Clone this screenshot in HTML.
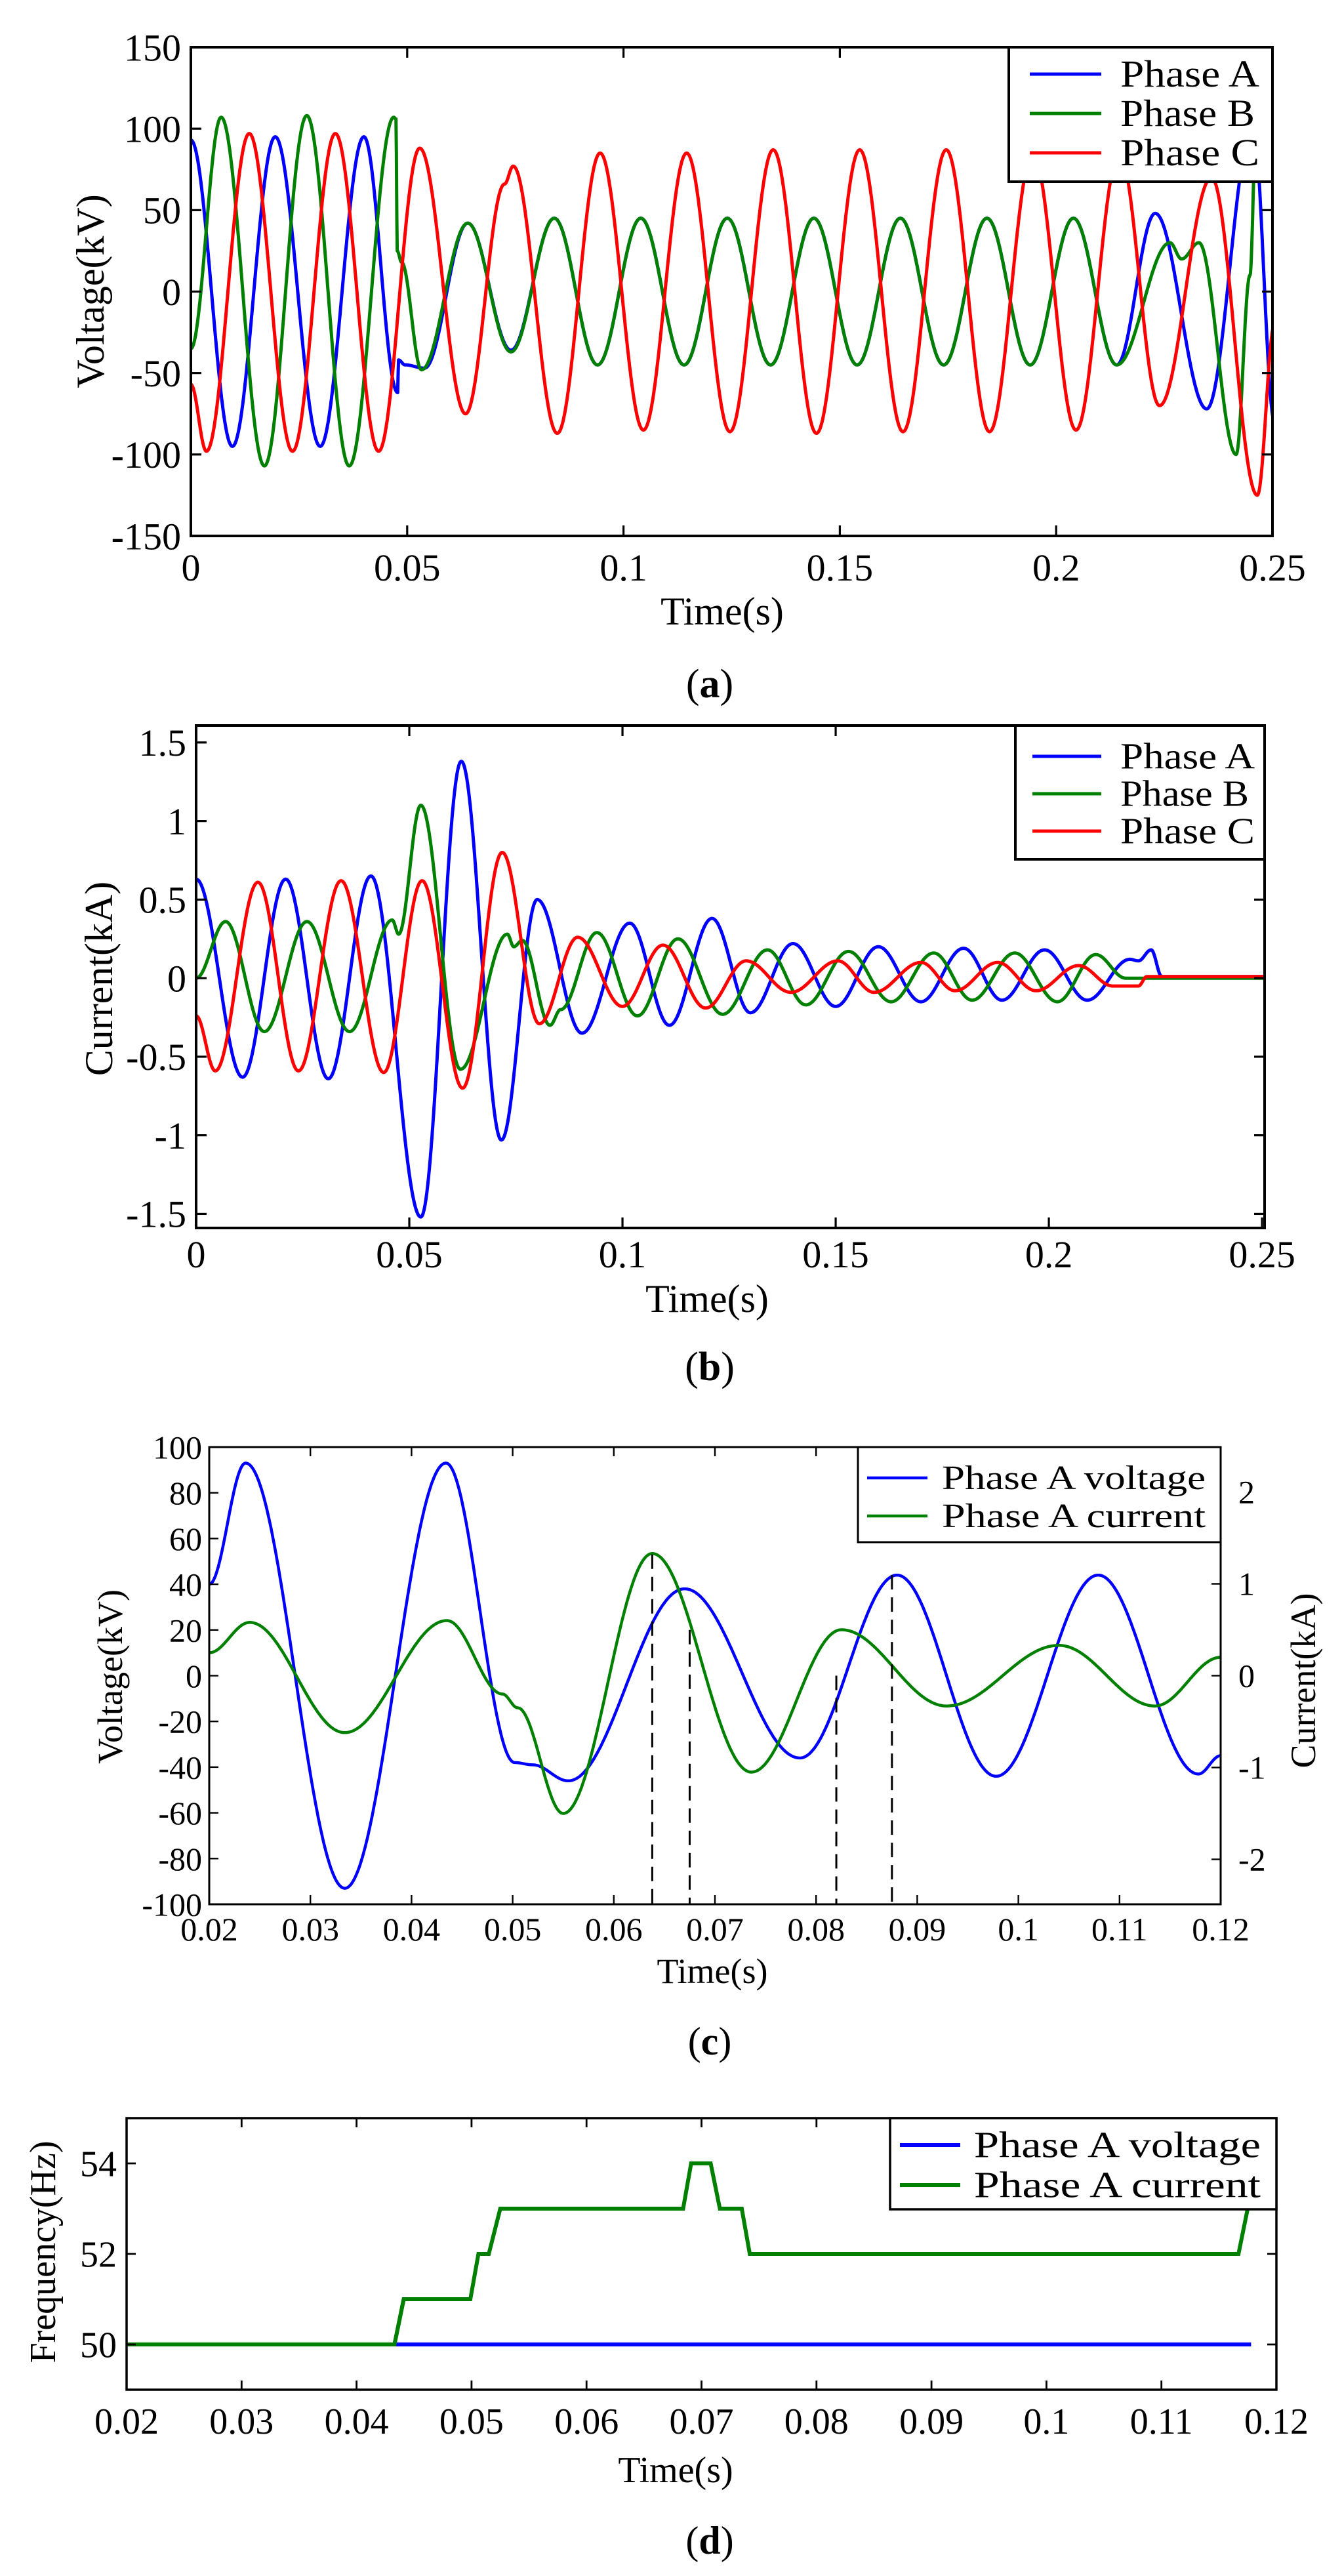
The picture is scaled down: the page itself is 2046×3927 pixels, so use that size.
<!DOCTYPE html>
<html><head><meta charset="utf-8"><style>
html,body{margin:0;padding:0;background:#fff}
svg{display:block}
text{font-family:"Liberation Serif",serif;fill:#000}
</style></head><body>
<svg id="s" xmlns="http://www.w3.org/2000/svg" width="2046" height="3927" viewBox="0 0 2046 3927">
<rect width="2046" height="3927" fill="#fff"/>
<defs>
<clipPath id="ca"><rect x="291" y="72" width="1649" height="745"/></clipPath>
<clipPath id="cb"><rect x="299" y="1106" width="1629" height="766"/></clipPath>
<clipPath id="cc"><rect x="319" y="2206" width="1542" height="697"/></clipPath>
<clipPath id="cd"><rect x="193" y="3229" width="1753" height="414"/></clipPath>
</defs>
<g id="g"></g>
</svg>
<script>
var NS="http://www.w3.org/2000/svg",G=document.getElementById('g');
function el(t,a,txt,par){var e=document.createElementNS(NS,t);for(var k in a)e.setAttribute(k,a[k]);if(txt!=null)e.textContent=txt;(par||G).appendChild(e);return e;}
function knotsFn(k){return function(t){if(t<=k[0][0])return k[0][1];for(var i=0;i<k.length-1;i++){if(t<=k[i+1][0]){var u=(t-k[i][0])/(k[i+1][0]-k[i][0]);return k[i][1]+(k[i+1][1]-k[i][1])*(1-Math.cos(Math.PI*u))/2;}}return k[k.length-1][1];};}
function alt(t0,t1,a,startSign){var r=[],s=startSign;for(var t=t0;t<=t1+1e-9;t+=0.01){r.push([+t.toFixed(4),s*a]);s=-s;}return r;}
function plot(P,k,color,w,clip){var f=knotsFn(k),t0=k[0][0],t1=k[k.length-1][0],d="";
 for(var t=t0;t<=t1+1e-9;t+=0.0001){var x=P.x0+(t-P.t0)/(P.t1-P.t0)*P.w,y=P.y0-(f(t)-P.v0)/(P.v1-P.v0)*P.h;d+=(d?"L":"M")+x.toFixed(1)+" "+y.toFixed(1);}
 el('path',{d:d,fill:'none',stroke:color,'stroke-width':w,'stroke-linejoin':'round',"clip-path":"url(#"+clip+")"});}
function axes(P,xt,xl,yt,yl,fs,sw,tl,xly,ylx,right){
 el('rect',{x:P.x0,y:P.y0-P.h,width:P.w,height:P.h,fill:'none',stroke:'#000','stroke-width':sw});
 for(var i=0;i<xt.length;i++){var x=P.x0+(xt[i]-P.t0)/(P.t1-P.t0)*P.w;
  el('line',{x1:x,y1:P.y0,x2:x,y2:P.y0-tl,stroke:'#000','stroke-width':sw*0.8});
  el('line',{x1:x,y1:P.y0-P.h,x2:x,y2:P.y0-P.h+tl,stroke:'#000','stroke-width':sw*0.8});
  el('text',{x:x,y:xly,'font-size':fs,'text-anchor':'middle'},xl[i]);}
 for(var i=0;i<yt.length;i++){var y=P.y0-(yt[i]-P.v0)/(P.v1-P.v0)*P.h;
  el('line',{x1:P.x0,y1:y,x2:P.x0+tl,y2:y,stroke:'#000','stroke-width':sw*0.8});
  if(!right)el('line',{x1:P.x0+P.w,y1:y,x2:P.x0+P.w-tl,y2:y,stroke:'#000','stroke-width':sw*0.8});
  el('text',{x:ylx,y:y+fs*0.35,'font-size':fs,'text-anchor':'end'},yl[i]);}
}
function legend(x,y,w,h,items,lx1,lx2,tx,ys,fs,sw,lw,tlen){
 el('rect',{x:x,y:y,width:w,height:h,fill:'#fff',stroke:'#000','stroke-width':sw});
 for(var i=0;i<items.length;i++){el('line',{x1:lx1,y1:ys[i],x2:lx2,y2:ys[i],stroke:items[i][1],'stroke-width':lw});
  var a={x:tx,y:ys[i]+fs*0.33,'font-size':fs};if(tlen){a.textLength=tlen[i];a.lengthAdjust='spacingAndGlyphs';}
  el('text',a,items[i][0]);}
}
function cap(x,y,l,fs){var t=el('text',{x:x,y:y,'font-size':fs,'text-anchor':'middle'});el('tspan',{},'(',t);el('tspan',{'font-weight':'bold'},l,t);el('tspan',{},')',t);}
var B='#0000ff',Gr='#008000',R='#ff0000';

/* ---------- (a) ---------- */
var PA={x0:291,w:1649,t0:0,t1:0.25,y0:817,h:745,v0:-150,v1:150};
var Aa=[[0,93],[0.0096,-95],[0.0195,95],[0.0299,-95],[0.040,95],[0.0478,-62],[0.0480,-42],[0.0495,-45],[0.054,-47],[0.064,42],[0.074,-36]].concat(alt(0.084,0.214,45,1)).concat([[0.2229,48],[0.2348,-72],[0.2455,102],[0.2505,-80]]);
var Ba=[[0,-35],[0.007,107],[0.017,-107],[0.0268,108],[0.0366,-107],[0.0469,107],[0.0474,106],[0.0477,25],[0.0487,18],[0.0533,-48],[0.064,42],[0.074,-37]].concat(alt(0.084,0.214,45,1)).concat([[0.2263,30],[0.229,20],[0.233,30],[0.2416,-100],[0.2448,10],[0.2462,100],[0.2505,95]]);
var Ca=[[0,-57],[0.0036,-98],[0.0135,97],[0.0235,-98],[0.0334,97],[0.0434,-98],[0.0529,88],[0.0635,-75],[0.0725,66],[0.0745,77],[0.0847,-87]].concat([[0.0946,85],[0.1046,-85],[0.1146,85],[0.1246,-86],[0.1346,87],[0.1446,-87],[0.1546,87],[0.1646,-86],[0.1746,87],[0.1846,-86],[0.1946,85],[0.2046,-85],[0.2146,85],[0.2239,-70],[0.2359,70],[0.2465,-125],[0.2505,-20]]);
plot(PA,Aa,B,5,'ca');plot(PA,Ba,Gr,5,'ca');plot(PA,Ca,R,5,'ca');
axes(PA,[0,0.05,0.1,0.15,0.2,0.25],['0','0.05','0.1','0.15','0.2','0.25'],[-150,-100,-50,0,50,100,150],['-150','-100','-50','0','50','100','150'],58,4,16,885,276);
legend(1538,72,402,205,[['Phase A',B],['Phase B',Gr],['Phase C',R]],1570,1679,1708,[113,173,233],58,4,5,[212,205,212]);
el('text',{x:138,y:444,'font-size':60,'text-anchor':'middle',transform:'rotate(-90 138 444)'},'Voltage(kV)').setAttribute('dy','20');
el('text',{x:1101,y:952,'font-size':60,'text-anchor':'middle'},'Time(s)');
cap(1082,1063,'a',62);

/* ---------- (b) ---------- */
var PB={x0:299,w:1629,t0:0,t1:0.2506,y0:1872,h:766,v0:-1.59,v1:1.608};
var Ab=[[0,0.63],[0.0109,-0.63],[0.021,0.63],[0.031,-0.64],[0.041,0.65],[0.0527,-1.52],[0.0622,1.38],[0.0716,-1.03],[0.080,0.5],[0.0905,-0.35],[0.1017,0.35],[0.111,-0.3],[0.121,0.38],[0.130,-0.22],[0.140,0.22],[0.150,-0.18],[0.160,0.2],[0.170,-0.15],[0.180,0.19],[0.189,-0.14],[0.199,0.18],[0.209,-0.14],[0.219,0.12],[0.221,0.11],[0.224,0.18],[0.2265,0.01],[0.2505,0.01]];
var Bb=[[0,0],[0.0069,0.36],[0.016,-0.34],[0.026,0.36],[0.036,-0.34],[0.046,0.37],[0.0475,0.28],[0.0527,1.1],[0.062,-0.58],[0.073,0.28],[0.0745,0.2],[0.0765,0.24],[0.083,-0.3],[0.0855,-0.2],[0.094,0.29],[0.1035,-0.24],[0.113,0.25],[0.1235,-0.23],[0.134,0.18],[0.143,-0.17],[0.153,0.17],[0.163,-0.15],[0.173,0.16],[0.182,-0.14],[0.192,0.16],[0.202,-0.15],[0.211,0.15],[0.218,0],[0.2505,0]];
var Cb=[[0,-0.24],[0.0045,-0.59],[0.0145,0.61],[0.024,-0.59],[0.034,0.62],[0.044,-0.6],[0.053,0.62],[0.0625,-0.7],[0.0718,0.8],[0.0805,-0.29],[0.0895,0.26],[0.100,-0.18],[0.1095,0.21],[0.1195,-0.19],[0.129,0.11],[0.1395,-0.09],[0.1505,0.11],[0.159,-0.09],[0.170,0.1],[0.178,-0.08],[0.188,0.1],[0.197,-0.08],[0.207,0.08],[0.215,-0.05],[0.221,-0.05],[0.223,0.01],[0.2505,0.01]];
plot(PB,Ab,B,5,'cb');plot(PB,Bb,Gr,5,'cb');plot(PB,Cb,R,5,'cb');
axes(PB,[0,0.05,0.1,0.15,0.2,0.25],['0','0.05','0.1','0.15','0.2','0.25'],[-1.5,-1,-0.5,0,0.5,1,1.5],['-1.5','-1','-0.5','0','0.5','1','1.5'],58,4,16,1932,284);
legend(1548,1106,380,204,[['Phase A',B],['Phase B',Gr],['Phase C',R]],1574,1679,1708,[1153,1210,1267],56,4,5,[205,196,205]);
el('text',{x:151,y:1492,'font-size':60,'text-anchor':'middle',transform:'rotate(-90 151 1492)',dy:20},'Current(kA)');
el('text',{x:1078,y:2000,'font-size':60,'text-anchor':'middle'},'Time(s)');
cap(1082,2104,'b',62);

/* ---------- (c) ---------- */
var PC={x0:319,w:1542,t0:0.02,t1:0.12,y0:2903,h:697,v0:-100,v1:100};
var kv=3.485,ka=140;
var Vc=[[0.02,40],[0.0236,93],[0.0334,-93],[0.0434,93],[0.0502,-38],[0.052,-39],[0.0555,-46],[0.067,38],[0.0784,-36],[0.088,44],[0.0978,-44],[0.1079,44],[0.1178,-43],[0.12,-35]];
var Ic=[[0.02,0.25],[0.024,0.58],[0.0334,-0.62],[0.0435,0.6],[0.049,-0.2],[0.0505,-0.35],[0.055,-1.5],[0.0638,1.33],[0.0736,-1.05],[0.0825,0.5],[0.0929,-0.33],[0.104,0.33],[0.1135,-0.33],[0.12,0.2]];
var Icv=Ic.map(function(p){return [p[0],p[1]*ka/kv];});
plot(PC,Vc,B,4.5,'cc');plot(PC,Icv,Gr,4.5,'cc');
[[0.0638,53],[0.0675,20],[0.082,0],[0.0875,44]].forEach(function(p){var x=PC.x0+(p[0]-0.02)/0.1*PC.w,y=PC.y0-(p[1]+100)/200*PC.h;
 el('line',{x1:x,y1:y,x2:x,y2:PC.y0,stroke:'#000','stroke-width':3,'stroke-dasharray':'22 12'});});
axes(PC,[0.02,0.03,0.04,0.05,0.06,0.07,0.08,0.09,0.1,0.11,0.12],['0.02','0.03','0.04','0.05','0.06','0.07','0.08','0.09','0.1','0.11','0.12'],[-100,-80,-60,-40,-20,0,20,40,60,80,100],['-100','-80','-60','-40','-20','0','20','40','60','80','100'],50,3,14,2958,308,true);
[-2,-1,0,1,2].forEach(function(v){var y=2554.5-v*ka;el('line',{x1:1861,y1:y,x2:1847,y2:y,stroke:'#000','stroke-width':2.4});
 el('text',{x:1888,y:y+17,'font-size':50},String(v));});
legend(1308,2206,553,145,[['Phase A voltage',B],['Phase A current',Gr]],1322,1414,1436,[2253,2311],52,3,4.5,[402,402]);
el('text',{x:168,y:2556,'font-size':54,'text-anchor':'middle',transform:'rotate(-90 168 2556)',dy:18},'Voltage(kV)');
el('text',{x:1987,y:2562,'font-size':54,'text-anchor':'middle',transform:'rotate(-90 1987 2562)',dy:18},'Current(kA)');
el('text',{x:1086,y:3023,'font-size':54,'text-anchor':'middle'},'Time(s)');
cap(1082,3132,'c',60);

/* ---------- (d) ---------- */
var PD={x0:193,w:1753,t0:0.02,t1:0.12,y0:3643,h:414,v0:49,v1:55};
var Bd=[[0.02,50],[0.1178,50]];
var Gd=[[0.02,50],[0.0433,50],[0.0441,51],[0.0499,51],[0.0506,52],[0.0515,52],[0.0525,53],[0.0684,53],[0.0691,54],[0.0708,54],[0.0716,53],[0.0735,53],[0.0742,52],[0.1167,52],[0.1175,53],[0.1195,54],[0.12,54]];
function plotLin(P,k,color,w,clip){var d="";k.forEach(function(p,i){var x=P.x0+(p[0]-P.t0)/(P.t1-P.t0)*P.w,y=P.y0-(p[1]-P.v0)/(P.v1-P.v0)*P.h;d+=(i?"L":"M")+x.toFixed(1)+" "+y.toFixed(1);});
 el('path',{d:d,fill:'none',stroke:color,'stroke-width':w,'clip-path':'url(#'+clip+')'});}
plotLin(PD,Bd,B,6,'cd');plotLin(PD,Gd.slice(0,3).concat([]),Gr,6,'cd');
plotLin(PD,Gd.slice(1),Gr,6,'cd');
axes(PD,[0.02,0.03,0.04,0.05,0.06,0.07,0.08,0.09,0.1,0.11,0.12],['0.02','0.03','0.04','0.05','0.06','0.07','0.08','0.09','0.1','0.11','0.12'],[50,52,54],['50','52','54'],56,3.5,14,3710,178);
legend(1357,3229,589,139,[['Phase A voltage',B],['Phase A current',Gr]],1372,1464,1485,[3270,3331],56,3.5,6,[437,437]);
el('text',{x:66,y:3433,'font-size':56,'text-anchor':'middle',transform:'rotate(-90 66 3433)',dy:18},'Frequency(Hz)');
el('text',{x:1030,y:3784,'font-size':56,'text-anchor':'middle'},'Time(s)');
cap(1082,3893,'d',60);
</script>
</body></html>
